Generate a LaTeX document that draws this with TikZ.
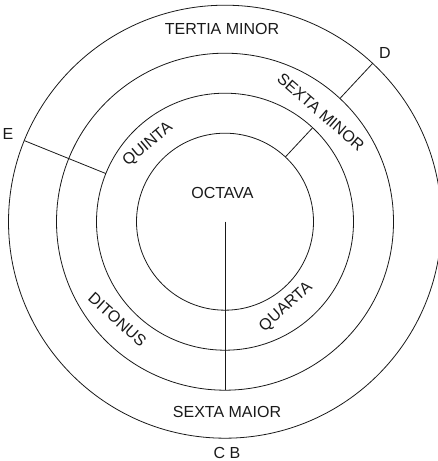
\documentclass[tikz,border=0pt]{standalone}
\usepackage{fontspec}
\setmainfont{Liberation Sans}
\begin{document}
\begin{tikzpicture}[x=1pt,y=1pt,
  ring/.style={draw=black!90, circle, inner sep=0pt, outer sep=0pt, line width=0.8pt},
  spoke/.style={draw=black!90, line width=0.8pt},
  lbl/.style={inner sep=0pt, text=black!90, font=\fontsize{16}{18}\selectfont, text height=11.4pt, text depth=0pt}]
\useasboundingbox (0,0) rectangle (438,461);
\clip (0,0) rectangle (438,461);
\coordinate (O) at (225,239.3);
\node[ring, minimum size=433pt] (c1) at (O) {};
\node[ring, minimum size=337pt] (c2) at (O) {};
\node[ring, minimum size=257pt] (c3) at (O) {};
\node[ring, minimum size=177pt] (c4) at (O) {};
% spokes
\draw[spoke] (c2.47) -- (c1.47);
\draw[spoke] (c4.47) -- (c3.47);
\draw[spoke] (c3.158) -- (c1.158);
\draw[spoke] (O) -- (c2.270);
% labels
\node[lbl] (tm) at (222,432) {TERTIA MINOR};
\node[lbl] (d) at (385,408) {D};
\node[lbl] (e) at (8,327.5) {E};
\node[lbl] (oct) at (222.5,268) {OCTAVA};
\node[lbl, rotate=40] (qui) at (147,317.5) {QUINTA};
\node[lbl, rotate=-41] (sm) at (321,349) {SEXTA MINOR};
\node[lbl, rotate=-42] (dit) at (117.5,141.5) {DITONUS};
\node[lbl, rotate=42] (qua) at (285,155) {QUARTA};
\node[lbl] (smaj) at (227,49) {SEXTA MAIOR};
\node[lbl] (cb) at (227,8.5) {C B};
\end{tikzpicture}
\end{document}
